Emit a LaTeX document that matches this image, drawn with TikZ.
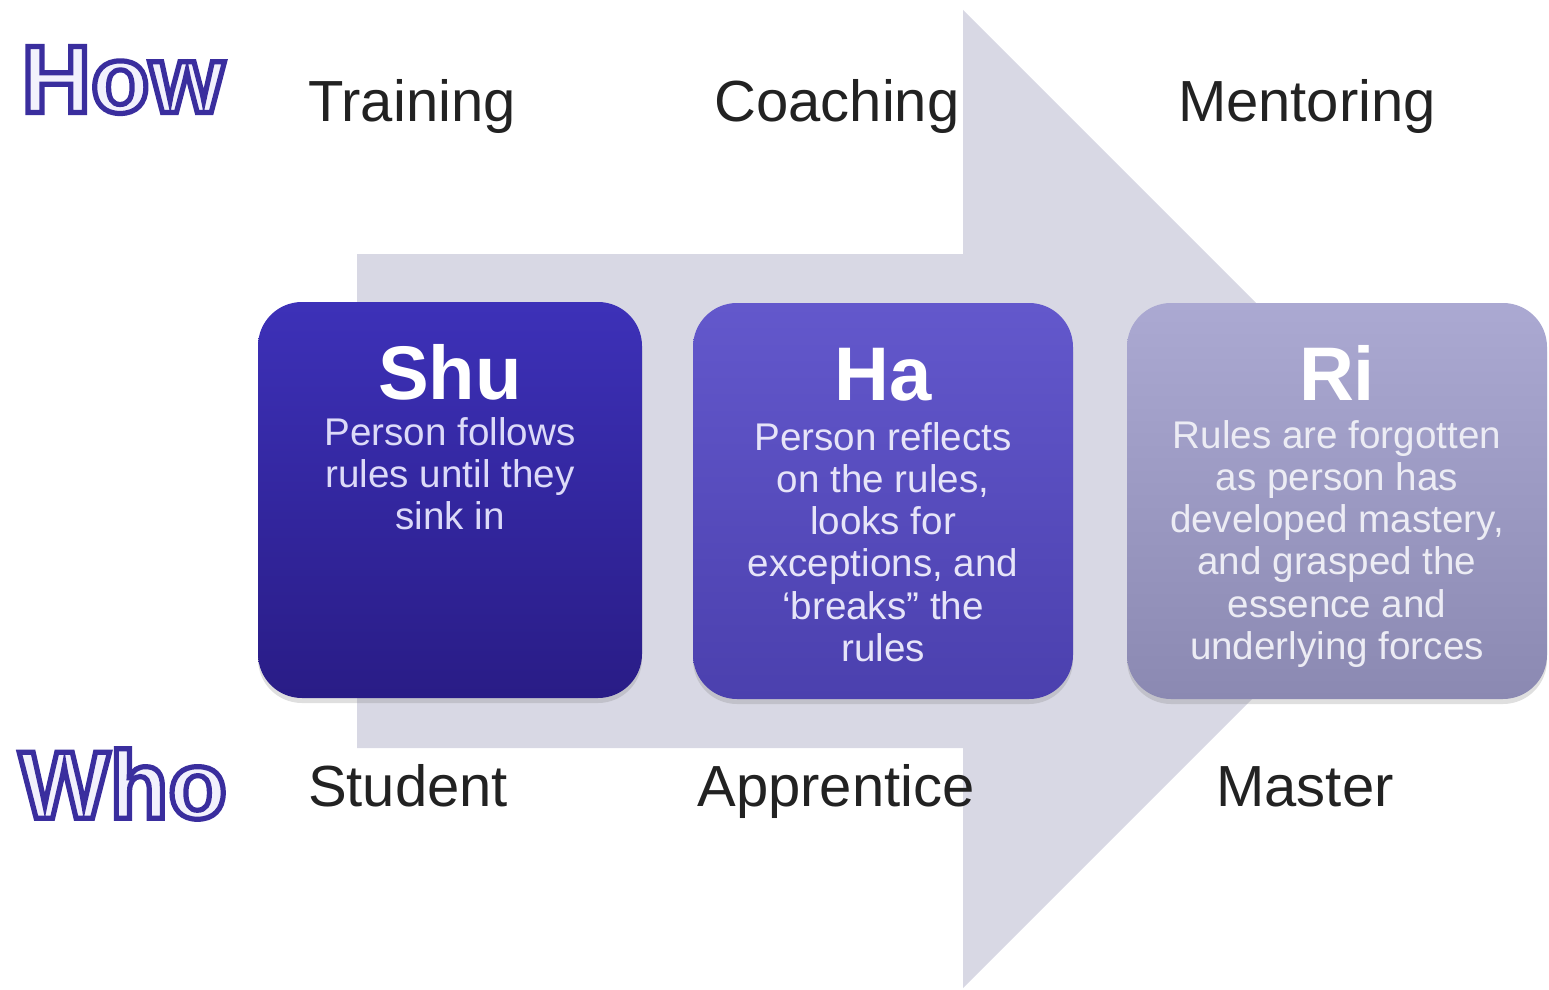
\documentclass[tikz,border=0pt]{standalone}
\usepackage{fontspec}
\setmainfont{Liberation Sans}
\usetikzlibrary{shadows}
\definecolor{arrowfill}{HTML}{D8D8E4}
\definecolor{shuTop}{HTML}{3D31B8}
\definecolor{shuBot}{HTML}{291C86}
\definecolor{haTop}{HTML}{6358CC}
\definecolor{haBot}{HTML}{4B40AE}
\definecolor{riTop}{HTML}{ABA9D2}
\definecolor{riBot}{HTML}{8B89B2}
\definecolor{shuText}{HTML}{DCDAF8}
\definecolor{haText}{HTML}{E6E4F8}
\definecolor{riText}{HTML}{ECECF4}
\definecolor{labelText}{HTML}{222222}
\definecolor{outlineFill}{HTML}{F2F1FC}
% fill-and-stroke text: light fill, dark violet stroke
\newcommand{\outlinedword}[1]{\special{pdf:literal direct 2 Tr 2.6 w 0.227 0.18 0.62 RG}#1\special{pdf:literal direct 0 Tr}}
\tikzset{
  stagebox/.style={rectangle, rounded corners=22pt, minimum height=198pt, inner sep=0pt,
    drop shadow={opacity=0.25, shadow xshift=0pt, shadow yshift=-2.5pt}},
  stagetitle/.style={anchor=base, inner sep=0pt, text=white, font=\fontsize{38pt}{40pt}\selectfont\bfseries},
  stagebody/.style={anchor=north, inner sep=0pt, align=center, font=\fontsize{19.3pt}{21.1pt}\selectfont},
  rowlabel/.style={anchor=base, inner sep=0pt, text=labelText, font=\fontsize{29pt}{31pt}\selectfont},
  bigword/.style={inner sep=0pt, text=outlineFill, font=\fontsize{48pt}{50pt}\selectfont\bfseries},
}
\begin{document}
\begin{tikzpicture}[x=0.5pt, y=-0.5pt]
\useasboundingbox (0,0) rectangle (1549,990);
% big arrow
\fill[arrowfill] (357,254) -- (963,254) -- (963,10) -- (1452,499) -- (963,988) -- (963,748) -- (357,748) -- cycle;
% stage boxes
\node[stagebox, minimum width=192pt, top color=shuTop, bottom color=shuBot] (shuBox) at (450,500) {};
\node[stagebox, minimum width=190pt, top color=haTop, bottom color=haBot] (haBox) at (883,501) {};
\node[stagebox, minimum width=210pt, top color=riTop, bottom color=riBot] (riBox) at (1337,501) {};
% titles
\node[stagetitle] (shuTitle) at (450,399) {Shu};
\node[stagetitle] (haTitle) at (883,400) {Ha};
\node[stagetitle] (riTitle) at (1337,400) {Ri};
% bodies
\node[stagebody, text=shuText] (shuBody) at (450,417) {Person follows\\rules until they\\sink in};
\node[stagebody, text=haText] (haBody) at (883,422) {Person reflects\\on the rules,\\looks for\\exceptions, and\\‘breaks” the\\rules};
\node[stagebody, text=riText] (riBody) at (1337,420) {Rules are forgotten\\as person has\\developed mastery,\\and grasped the\\essence and\\underlying forces};
% row labels
\node[rowlabel] (training) at (412,122) {Training};
\node[rowlabel] (coaching) at (837,122) {Coaching};
\node[rowlabel] (mentoring) at (1307,122) {Mentoring};
\node[rowlabel] (student) at (408,806) {Student};
\node[rowlabel] (apprentice) at (836,806) {Apprentice};
\node[rowlabel] (master) at (1305,806) {Master};
% outlined words
\node[bigword] (how) at (123,80) {\outlinedword{How}};
\node[bigword] (who) at (123,784) {\outlinedword{Who}};
\end{tikzpicture}
\end{document}
